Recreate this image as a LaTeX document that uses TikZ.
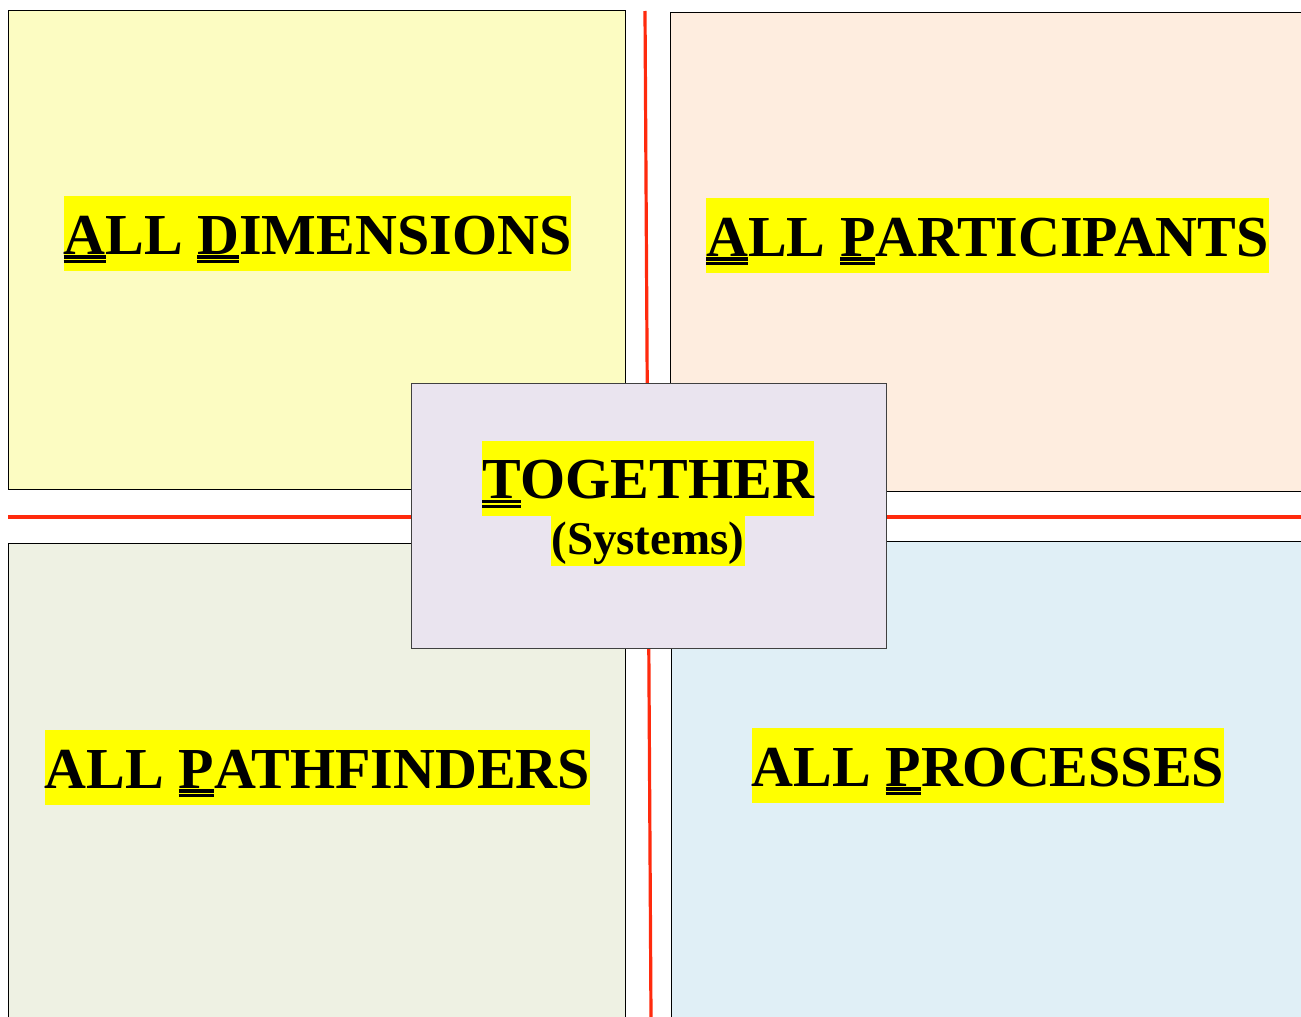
\documentclass[tikz,border=0pt]{standalone}
\usepackage{fontspec}
\setmainfont{Liberation Serif}
\definecolor{PaneDim}{HTML}{FCFCC2}
\definecolor{PanePart}{HTML}{FEEDDF}
\definecolor{PanePath}{HTML}{EEF1E3}
\definecolor{PaneProc}{HTML}{E0EFF6}
\definecolor{PaneCore}{HTML}{EAE4EF}
\definecolor{AxisRed}{HTML}{FF2A0D}
\definecolor{Marker}{HTML}{FFFF00}
\usetikzlibrary{positioning}

% double underline under a single letter
\newcommand\dblu[1]{\setbox0\hbox{#1}%
  \rlap{\rule[-0.078em]{\wd0}{0.057em}}%
  \rlap{\rule[-0.162em]{\wd0}{0.057em}}\box0}

\begin{document}
\begin{tikzpicture}[
  x=1pt, y=-1pt,
  pane/.style={
    rectangle, anchor=north west, inner sep=0pt,
    draw=black, line width=0.8pt
  },
  core/.style={
    rectangle, anchor=north west, inner sep=0pt,
    minimum width=475pt, minimum height=265pt,
    draw=black!75, line width=0.8pt, fill=PaneCore
  },
  hilite/.style={
    fill=Marker, inner sep=0pt, text height=58pt, text depth=17pt,
    font=\bfseries\fontsize{58}{60}\selectfont
  },
  subhilite/.style={
    fill=Marker, inner sep=0pt, text height=39pt, text depth=11pt,
    font=\bfseries\fontsize{47}{49}\selectfont
  },
  axis/.style={draw=AxisRed, line width=3.2pt},
]
\useasboundingbox (0,0) rectangle (1301,1017);
\clip (0,0) rectangle (1301,1017);

% four quadrants
\node[pane, fill=PaneDim,  minimum width=617pt, minimum height=479pt] (dims)  at (8,10)   {};
\node[pane, fill=PanePart, minimum width=650pt, minimum height=479pt] (parts) at (670,12) {};
\node[pane, fill=PanePath, minimum width=617pt, minimum height=490pt] (paths) at (8,543)  {};
\node[pane, fill=PaneProc, minimum width=650pt, minimum height=490pt] (procs) at (671,541) {};

% red axes
\coordinate (vtop) at (645,11);
\coordinate (vbot) at (651,1017);
\coordinate (hleft) at (8,517);
\coordinate (hright) at (1301,517);
\draw[axis] (vtop) -- (vbot);
\draw[axis] (hleft) -- (hright);

% centre box
\node[core] (sys) at (411,383) {};

% labels
\node[hilite] (ldims)  at (317.5,233.5) {\dblu{A}LL \dblu{D}IMENSIONS};
\node[hilite] (lparts) at (987.5,235.5) {\dblu{A}LL \dblu{P}ARTICIPANTS};
\node[hilite] (lpaths) at (317.5,767.5) {ALL \dblu{P}ATHFINDERS};
\node[hilite] (lprocs) at (988,765.5)   {ALL \dblu{P}ROCESSES};
\node[hilite] (ltog)   at (648,478)     {\dblu{T}OGETHER};
\node[subhilite, below=0pt of ltog] (lsys) {(Systems)};

\end{tikzpicture}
\end{document}
